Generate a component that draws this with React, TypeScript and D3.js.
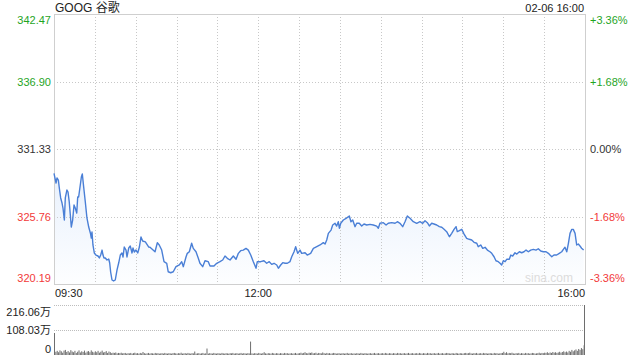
import React from "react";
import * as d3 from "d3";

const title = "GOOG 谷歌";
const stamp = "02-06 16:00";
const priceTicks = [342.47, 336.9, 331.33, 325.76, 320.19];
const priceTickLabels = ["342.47", "336.90", "331.33", "325.76", "320.19"];
const pctTickLabels = ["+3.36%", "+1.68%", "0.00%", "-1.68%", "-3.36%"];
const timeTickMinutes = [0, 150, 390];
const timeTickLabels = ["09:30", "12:00", "16:00"];
const volTicks = [216.06, 108.03, 0];
const volTickLabels = ["216.06万", "108.03万", "0"];

// minutes after 09:30 and price
const minutes = [
  0, 1.5, 2.2, 3.2, 3.9, 4.9, 5.9, 6.6, 7.6, 8.3, 9.5, 10.3, 11.2, 12.0, 12.7, 13.7, 14.7, 15.6, 16.7, 17.4,
  18.1, 19.3, 20.1, 20.8, 21.8, 23.0, 24.2, 25.5, 26.7, 27.4, 27.9, 28.6, 29.6, 30.8, 32.3, 33.3, 34.3, 35.3, 36.0, 36.7,
  37.7, 38.9, 40.2, 40.9, 41.6, 42.6, 43.8, 45.0, 46.3, 47.5, 48.7, 49.9, 50.7, 51.6, 52.9, 53.6, 54.9, 56.0, 57.3, 58.0,
  59.0, 60.2, 61.5, 62.7, 63.9, 65.1, 67.1, 69.6,
  70.5, 74.2, 75.9, 77.3, 79.1, 80.8, 82.8, 83.9, 85.7, 87.6, 89.6, 92.0, 93.8, 95.0, 97.0, 97.9, 99.4, 101.1, 102.3, 104.3,
  106.0, 107.2, 109.2, 110.9, 113.3, 114.6, 117.5, 119.5, 121.9, 123.9, 125.6, 127.3, 129.3, 131.7, 133.7, 135.4, 137.1, 139.0, 141.0, 142.7,
  144.5, 146.4, 148.4, 149.3, 151.8, 154.2, 156.2, 158.1, 159.9, 161.6, 163.6, 164.8, 166.5, 168.0, 169.7, 171.4, 173.3, 174.6, 176.3, 177.5,
  179.0, 180.7,
  181.9, 184.4, 186.0, 188.5, 190.5, 193.0, 195.4, 197.8, 199.1, 200.3, 201.5, 203.5, 204.7, 206.4, 207.6, 208.8, 209.6, 210.6, 212.5, 214.5,
  216.9, 218.1, 219.4, 221.1, 222.3, 224.2, 226.0, 227.7, 229.7, 232.1, 234.5, 237.0, 238.2, 239.4, 241.9, 243.9, 245.5, 248.0, 250.5, 252.2,
  254.1, 256.1, 257.8, 259.5, 261.5, 263.9, 266.4, 268.8,
  270.8, 272.5, 274.2, 275.7, 277.4, 279.1, 281.1, 283.0, 284.8, 286.5, 288.4, 290.4, 292.1, 293.8, 295.3, 296.2, 297.7, 299.5, 301.2, 303.1,
  305.0, 306.8, 308.5, 310.5, 311.6, 313.4, 314.9, 316.6, 318.3, 320.2, 321.5, 323.2, 324.6, 326.3, 327.6, 328.8, 330.0, 331.3, 332.5, 334.4,
  335.5, 336.9, 338.6, 339.9, 341.8, 343.5, 345.2, 346.7, 348.4, 350.1, 352.1, 354.0, 355.7, 357.5, 359.4, 361.4, 363.1, 364.3, 365.6, 367.2,
  369.2, 371.1, 372.9, 374.1, 375.3, 376.6, 377.8, 379.0, 380.3, 381.4, 382.7, 383.9, 385.1, 386.3, 387.5, 389.0,
];

const prices = [
  329.32, 328.52, 328.94, 328.77, 328.11, 327.29, 326.87, 326.46, 325.47, 327.29, 327.95, 327.78, 326.96, 325.88, 324.89, 325.47, 326.71, 326.46, 326.05, 327.37,
  327.37, 328.36, 329.02, 329.27, 328.19, 326.96, 325.64, 324.89, 324.4, 323.98, 324.48, 323.41, 322.75, 322.58, 322.5, 322.34, 322.58, 322.99, 322.58, 322.34,
  322.34, 322.17, 322.25, 321.92, 321.18, 320.52, 320.44, 320.52, 321.35, 321.92, 322.58, 322.75, 322.42, 323.24, 322.99, 322.42, 323.16, 323.33, 322.75, 323.16,
  322.83, 322.99, 322.75, 323.24, 324.07, 323.74, 323.66, 323.24,
  323.22, 322.85, 323.6, 323.41, 322.99, 322.03, 321.9, 321.2, 321.12, 321.2, 321.62, 321.76, 322.03, 321.62, 322.44, 322.72, 322.85, 323.55, 323.13, 322.85,
  322.31, 321.9, 321.62, 322.11, 322.03, 321.67, 321.67, 321.9, 322.03, 322.17, 322.5, 322.31, 322.17, 322.5, 322.23, 322.72, 322.94, 322.99, 323.13, 322.99,
  322.58, 322.03, 321.49, 322.03, 322.03, 322.11, 321.9, 322.03, 321.81, 321.9, 321.76, 321.49, 321.76, 321.95, 321.9, 321.9, 322.03, 322.44, 322.85, 323.27,
  322.72, 322.99,
  322.72, 322.77, 322.58, 322.72, 323.13, 323.27, 323.41, 323.6, 323.49, 323.82, 324.37, 324.64, 325.06, 325.2, 324.97, 325.33, 324.79, 325.2, 325.47, 325.61,
  325.8, 325.33, 325.47, 324.92, 325.2, 325.2, 324.97, 325.14, 325.06, 325.11, 325.06, 324.97, 324.79, 325.2, 325.25, 325.06, 325.2, 325.25, 325.2, 325.33,
  325.2, 324.92, 325.33, 325.8, 325.61, 325.33, 325.2, 325.33,
  325.2, 325.41, 325.25, 324.98, 325.2, 325.14, 325.06, 324.92, 324.87, 324.7, 324.51, 324.09, 324.37, 324.7, 324.92, 324.51, 324.59, 324.7, 324.31, 323.96,
  323.88, 323.82, 323.63, 323.55, 323.27, 323.41, 323.13, 323.22, 322.99, 322.85, 322.72, 322.44, 322.11, 322.03, 321.9, 321.76, 322.11, 322.03, 322.23, 322.23,
  322.58, 322.5, 322.77, 322.66, 322.85, 322.77, 322.85, 322.99, 322.85, 322.99, 323.05, 322.99, 323.1, 322.91, 322.85, 322.85, 322.72, 322.58, 322.44, 322.58,
  322.58, 322.72, 322.85, 323.05, 323.22, 322.85, 323.55, 324.37, 324.7, 324.7, 324.37, 323.41, 323.49, 323.33, 323.14, 322.99,
];

// per-minute volume, in 万 shares (minute 0 .. 390)
const volumes = [
  95, 14, 18, 12, 20, 16, 10, 19, 22, 13, 17, 11, 21, 15, 12, 18, 9, 14, 20, 11, 16, 13, 19, 10, 15, 17, 12, 20, 14, 11,
  16, 12, 18, 10, 14, 19, 11, 13, 17, 9, 15, 12, 8, 10, 9, 11, 7, 9, 8, 10, 7, 8, 9, 6, 8, 7, 9, 6, 8, 10,
  7, 8, 6, 9, 7, 13, 8, 6, 7, 9, 6, 8, 7, 6, 9, 7, 8, 6, 7, 8, 6, 9, 7, 6, 8, 7, 6, 8, 9, 7,
  6, 8, 7, 10, 6, 7, 8, 6, 9, 7, 6, 8, 7, 15, 6, 7, 8, 6, 7, 9, 6, 7, 28, 6, 8, 7, 6, 9, 7, 6,
  8, 7, 6, 9, 7, 6, 8, 7, 6, 8, 7, 9, 6, 7, 8, 6, 7, 9, 6, 8, 7, 6, 8, 7, 58, 7, 6, 8, 7, 6,
  9, 7, 6, 8, 12, 7, 6, 8, 7, 6, 9, 7, 6, 8, 7, 6, 8, 7, 6, 9, 7, 8, 6, 7, 8, 6, 7, 9, 6, 7,
  8, 10, 7, 9, 12, 8, 7, 10, 9, 11, 7, 8, 10, 6, 9, 8, 7, 11, 8, 6, 9, 7, 8, 6, 7, 9, 8, 6, 7, 8,
  6, 7, 8, 6, 7, 9, 6, 7, 8, 6, 7, 6, 8, 7, 6, 9, 7, 6, 8, 7, 6, 7, 8, 6, 7, 9, 6, 7, 8, 6,
  7, 8, 6, 9, 7, 6, 8, 7, 6, 8, 7, 6, 9, 7, 8, 6, 7, 8, 6, 7, 9, 6, 7, 8, 6, 7, 8, 6, 9, 7,
  6, 8, 7, 6, 9, 7, 8, 6, 7, 8, 6, 7, 9, 6, 7, 8, 6, 7, 9, 8, 7, 6, 8, 7, 6, 9, 7, 6, 8, 7,
  6, 8, 9, 7, 8, 10, 7, 6, 8, 7, 9, 6, 7, 8, 6, 9, 7, 8, 6, 7, 8, 7, 6, 9, 7, 8, 6, 7, 8, 9,
  14, 8, 12, 7, 9, 8, 10, 7, 6, 8, 7, 9, 6, 8, 7, 6, 9, 7, 8, 6, 7, 9, 8, 6, 7, 8, 10, 7, 9, 8,
  10, 9, 12, 8, 11, 9, 13, 10, 12, 9, 11, 14, 10, 13, 16, 12, 15, 11, 18, 14, 22, 16, 20, 24, 18, 26, 22, 30, 25, 42,
  216.06,
];

const FONT = "'Liberation Sans', Arial, 'Noto Sans CJK SC', sans-serif";
const GREEN = "#1fa51f";
const RED = "#f23a3a";
const DARK = "#333";

export default function App() {
  const L = 54, R = 585, T = 14, B = 284;
  const VT = 305, VB = 355;
  const x = d3.scaleLinear().domain([0, 390]).range([L, R]);
  const y = d3.scaleLinear().domain([320.19, 342.47]).range([B, T]);
  const yv = d3.scaleLinear().domain([0, 216.06]).range([VB, VT]);

  const pts = minutes.map((m, i) => [m, prices[i]] as [number, number]);
  const line = d3.line<[number, number]>().x((d) => x(d[0])).y((d) => y(d[1]));
  const area = d3
    .area<[number, number]>()
    .x((d) => x(d[0]))
    .y0(B)
    .y1((d) => y(d[1]));

  const gridMinutes = d3.range(30, 390, 30);
  const colorFor = (i: number) => (i < 2 ? GREEN : i === 2 ? DARK : RED);

  return (
    <svg
      width={640}
      height={360}
      style={{ position: "absolute", left: 0, top: 0, background: "#fff" }}
      fontFamily={FONT}
    >
      <defs>
        <linearGradient id="fillG" gradientUnits="userSpaceOnUse" x1={0} y1={170} x2={0} y2={B}>
          <stop offset="0" stopColor="#e8f0fc" />
          <stop offset="1" stopColor="#fdfeff" />
        </linearGradient>
      </defs>

      {/* title */}
      <text x={55} y={12} fontSize={12} fill="#222">{title}</text>
      <text x={584} y={12} fontSize={11} fill="#222" textAnchor="end">{stamp}</text>

      {/* area + grid */}
      <path d={area(pts) || ""} fill="url(#fillG)" />
      {gridMinutes.map((m) => (
        <line key={"vg" + m} x1={Math.round(x(m)) + 0.5} x2={Math.round(x(m)) + 0.5} y1={T} y2={B}
          stroke="#c8c8c8" strokeDasharray="1,2" />
      ))}
      {priceTicks.slice(1, 4).map((p) => (
        <line key={"hg" + p} x1={L} x2={R} y1={Math.round(y(p)) + 0.5} y2={Math.round(y(p)) + 0.5}
          stroke="#c8c8c8" strokeDasharray="1,2" />
      ))}
      <rect x={L + 0.5} y={T + 0.5} width={R - L} height={B - T} fill="none" stroke="#cfcfcf" />

      <text x={573} y={282} fontSize={12} fill="#dcdcdc" textAnchor="end">sina.com</text>

      <path d={line(pts) || ""} fill="none" stroke="#4a7fd6" strokeWidth={1.4} strokeLinejoin="round" />

      {/* price labels */}
      {priceTicks.map((p, i) => {
        const yy = i === 0 ? T + 10 : i === 4 ? B - 2.5 : y(p) + 4;
        return (
          <g key={"pl" + i}>
            <text x={51} y={yy} fontSize={11} textAnchor="end" fill={colorFor(i)}>{priceTickLabels[i]}</text>
            <text x={590} y={yy} fontSize={11} textAnchor="start" fill={colorFor(i)}>{pctTickLabels[i]}</text>
          </g>
        );
      })}

      {/* time labels */}
      {timeTickMinutes.map((m, i) => (
        <text key={"tl" + i} x={i === 0 ? L + 1 : i === 2 ? R : x(m)} y={297} fontSize={11} fill="#222"
          textAnchor={i === 0 ? "start" : i === 2 ? "end" : "middle"}>{timeTickLabels[i]}</text>
      ))}

      {/* volume */}
      {volTicks.slice(0, 2).map((v) => (
        <line key={"vgl" + v} x1={L} x2={R} y1={Math.round(yv(v)) + 0.5} y2={Math.round(yv(v)) + 0.5}
          stroke="#bdbdbd" strokeDasharray="1,1" />
      ))}
      {volumes.map((v, i) => (
        <rect key={"vb" + i} x={Math.min(x(i), R - 1)} y={yv(v)} width={1} height={VB - yv(v)} fill="#6e6e6e" />
      ))}
      {volTicks.map((v, i) => {
        const yy = i === 0 ? VT + 11 : i === 2 ? VB - 2 : yv(v) + 4;
        return (
          <text key={"vl" + i} x={51} y={yy} fontSize={11} textAnchor="end" fill="#222">{volTickLabels[i]}</text>
        );
      })}
    </svg>
  );
}
